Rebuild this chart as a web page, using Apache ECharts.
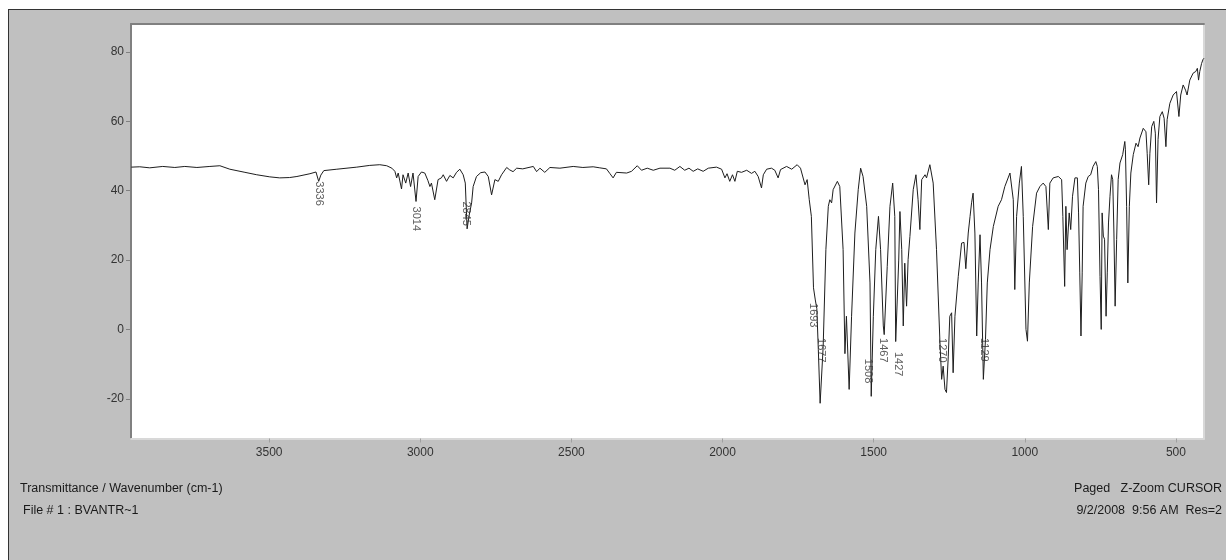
<!DOCTYPE html>
<html><head><meta charset="utf-8">
<script src="https://cdn.jsdelivr.net/npm/echarts@6/dist/echarts.min.js"></script>
<style>
html,body{margin:0;padding:0;width:1226px;height:560px;overflow:hidden;background:#fff;}
#frame{position:absolute;left:8px;top:9px;width:1240px;height:580px;background:#c0c0c0;border-left:1px solid #333;border-top:1px solid #333;}
#chart{position:absolute;left:0;top:0;width:1226px;height:560px;}
</style></head><body><div id="frame"></div><div id="chart"></div>
<script>
const wavenumber = [3956,3928,3895,3852,3812,3779,3739,3696,3663,3630,3580,3541,3498,3465,3432,3408,3365,3345,3336,3329,3319,3276,3210,3167,3134,3111,3094,3084,3078,3073,3062,3057,3048,3040,3032,3024,3014,3007,2996,2985,2975,2968,2963,2952,2941,2930,2924,2913,2902,2891,2880,2869,2858,2851,2845,2838,2830,2825,2814,2800,2786,2775,2764,2753,2742,2731,2714,2704,2693,2681,2661,2626,2615,2604,2588,2571,2538,2494,2462,2428,2406,2384,2373,2362,2351,2317,2301,2282,2268,2249,2229,2207,2174,2158,2141,2125,2111,2097,2082,2064,2047,2020,2003,1992,1985,1976,1967,1959,1951,1937,1920,1904,1893,1882,1871,1865,1854,1838,1827,1816,1808,1788,1771,1753,1742,1727,1720,1713,1706,1699,1693,1688,1683,1677,1667,1658,1650,1645,1639,1634,1620,1612,1601,1595,1590,1581,1573,1562,1551,1543,1535,1523,1512,1508,1501,1493,1484,1477,1468,1465,1455,1446,1437,1430,1427,1417,1413,1407,1402,1397,1391,1386,1380,1369,1360,1353,1347,1341,1330,1325,1314,1303,1292,1281,1275,1270,1264,1259,1253,1248,1242,1237,1231,1220,1209,1201,1195,1187,1181,1176,1171,1165,1159,1154,1148,1143,1137,1130,1124,1115,1104,1088,1077,1066,1049,1038,1033,1027,1018,1011,1005,996,991,985,974,961,950,939,930,922,917,906,889,878,874,868,864,860,853,848,842,834,826,822,818,814,810,807,798,790,782,774,765,760,756,751,747,744,740,736,731,727,723,718,713,709,705,701,696,691,685,676,669,667,663,659,654,649,641,632,625,619,608,599,595,590,586,580,573,568,564,559,553,545,539,533,529,520,509,498,490,484,476,468,463,454,443,434,429,425,421,415,410,407];
const transmittance = [46.8,46.9,46.6,47.0,46.7,47.0,46.7,47.0,47.2,46.2,45.3,44.6,44.0,43.7,43.8,44.1,44.9,45.4,42.7,44.5,45.8,46.2,46.8,47.3,47.5,47.2,46.5,45.6,43.7,45.1,40.5,44.6,42.2,45.1,41.2,45.1,36.9,44.1,45.4,45.1,43.0,41.2,42.2,37.4,43.2,43.7,44.6,42.7,44.4,43.7,45.3,46.2,44.6,42.2,29.0,33.0,36.5,41.2,44.1,45.2,45.4,44.1,38.8,43.2,42.7,44.6,46.7,46.0,45.5,46.5,46.3,47.0,45.5,46.5,45.3,46.7,46.5,47.0,46.7,46.9,46.6,46.3,45.0,43.7,45.3,45.1,45.6,47.2,45.9,46.5,45.9,46.5,46.5,45.9,47.0,45.9,46.5,45.6,46.3,45.6,46.5,46.8,46.2,43.7,44.9,42.7,44.6,42.7,45.6,45.3,45.9,45.0,45.6,44.1,40.8,44.6,46.2,46.5,45.9,43.7,46.1,47.0,46.2,47.5,46.5,41.7,43.2,37.4,32.6,12.0,8.5,6.0,-5.8,-21.3,-5.0,23.0,35.5,37.4,36.5,40.3,42.7,41.2,23.0,-7.0,3.8,-17.3,3.8,27.8,40.3,46.5,44.1,35.5,13.4,-19.3,3.8,23.0,32.6,23.0,1.0,-1.5,18.2,35.5,42.2,32.6,-3.5,20.0,34.0,23.0,1.0,19.1,6.7,20.1,26.8,40.3,44.6,37.4,28.8,43.2,44.6,43.7,47.5,42.2,23.0,-2.9,-14.4,-10.6,-17.3,-18.2,-7.7,3.8,4.8,-12.5,3.8,15.3,24.9,25.1,17.5,27.8,32.6,36.5,39.3,27.8,-1.9,13.4,27.3,13.4,-14.4,-2.9,13.4,23.0,29.7,35.5,37.4,41.2,45.1,37.4,11.5,32.6,42.2,47.0,32.6,0.0,-3.4,13.4,29.7,39.3,41.2,42.2,41.2,28.8,42.2,43.7,44.1,43.2,32.6,12.4,35.5,23.0,33.6,28.8,38.4,43.7,43.7,33.6,16.3,-1.9,16.3,35.5,42.2,44.1,44.6,47.0,48.4,47.0,40.3,15.3,0.0,33.6,26.9,26.0,3.8,16.3,30.7,38.4,44.6,43.2,27.8,6.7,25.9,43.2,48.0,50.4,54.2,51.8,35.5,13.4,35.5,45.1,50.4,53.7,52.7,55.2,58.0,57.0,50.8,41.7,50.8,58.5,60.0,56.6,36.5,54.8,61.4,62.8,60.9,52.7,60.5,65.2,67.6,68.6,61.4,67.6,70.5,69.0,67.6,71.9,73.9,74.4,75.3,71.9,74.4,76.7,77.9,78.2];

const peakLabels = ['3336','3014','2845','1693','1677','1508','1467','1427','1270','1129'];
const peakLabelX = [3336,3014,2848,1699,1674,1517,1469,1418,1272,1135];
const peakLabelY = [42.7,35.4,36.9,7.6,-2.5,-8.5,-2.5,-6.5,-2.5,-2.5];

const xTicks = [3500,3000,2500,2000,1500,1000,500];
const yTicks = [-20,0,20,40,60,80];

const FONT = '"Liberation Sans", Arial, sans-serif';
const chart = echarts.init(document.getElementById('chart'), null, {renderer:'canvas'});

const lineData = wavenumber.map((w,i)=>[w, transmittance[i]]);
const labelData = peakLabels.map((t,i)=>({name:t, value:[peakLabelX[i], peakLabelY[i]]}));

const titleStyle = {fontSize:12.5, fontWeight:'normal', color:'#1a1a1a', fontFamily:FONT};
const plain = v => String(Math.round(v));

chart.setOption({
  animation:false,
  backgroundColor:'transparent',
  title:[
    {text:'Transmittance / Wavenumber (cm-1)', left:20, top:482, padding:0, textStyle:titleStyle},
    {text:'File # 1 : BVANTR~1', left:23, top:504, padding:0, textStyle:titleStyle},
    {text:'Paged   Z-Zoom CURSOR', right:4, top:482, padding:0, textStyle:titleStyle},
    {text:'9/2/2008  9:56 AM  Res=2', right:4, top:504, padding:0, textStyle:titleStyle}
  ],
  grid:{left:131, top:24, width:1073, height:414.5, show:true, backgroundColor:'#ffffff', borderWidth:0},
  xAxis:[
    {type:'value', inverse:true, min:407, max:3957, position:'bottom',
     axisLine:{show:true, onZero:false, lineStyle:{color:'#d8d8d8', width:2}},
     axisTick:{show:true, length:4, customValues:xTicks, lineStyle:{color:'#a0a0a0'}},
     axisLabel:{show:true, customValues:xTicks, formatter:plain, margin:8, fontSize:12, color:'#333', fontFamily:FONT},
     splitLine:{show:false}},
    {type:'value', inverse:true, min:407, max:3957, position:'top',
     axisLine:{show:true, onZero:false, lineStyle:{color:'#808080', width:2}},
     axisTick:{show:false}, axisLabel:{show:false}, splitLine:{show:false}}
  ],
  yAxis:[
    {type:'value', min:-31.46, max:88.08, position:'left',
     axisLine:{show:true, onZero:false, lineStyle:{color:'#808080', width:2}},
     axisTick:{show:true, length:5, customValues:yTicks, lineStyle:{color:'#808080'}},
     axisLabel:{show:true, customValues:yTicks, formatter:plain, margin:7, fontSize:12, color:'#333', fontFamily:FONT},
     splitLine:{show:false}},
    {type:'value', min:-31.46, max:88.08, position:'right',
     axisLine:{show:true, onZero:false, lineStyle:{color:'#d8d8d8', width:2}},
     axisTick:{show:false}, axisLabel:{show:false}, splitLine:{show:false}}
  ],
  series:[
    {type:'line', data:lineData, symbol:'none', silent:true,
     lineStyle:{color:'#1e1e1e', width:1}, z:3},
    {type:'scatter', data:labelData, symbolSize:0.1, silent:true,
     itemStyle:{color:'transparent'}, z:4,
     label:{show:true, formatter:p=>p.name, position:[0,0], align:'left', verticalAlign:'middle',
            rotate:-90, fontSize:11, color:'#333', fontFamily:FONT}}
  ]
});
</script></body></html>
